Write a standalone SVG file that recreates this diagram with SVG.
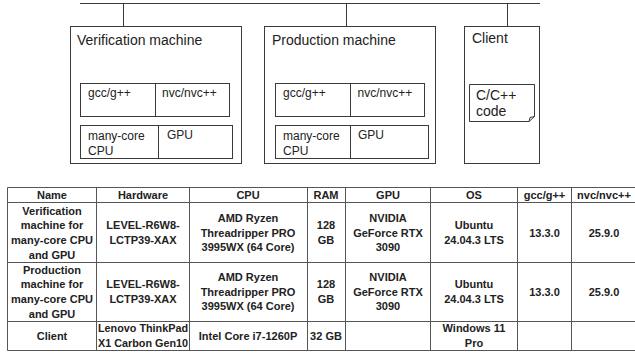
<svg xmlns="http://www.w3.org/2000/svg" width="635" height="356" viewBox="0 0 635 356">
<style>
.bg{fill:#ffffff}
.box{fill:#ffffff;stroke:#3a3a3a;stroke-width:1}
.ln{fill:none;stroke:#3a3a3a;stroke-width:1}
.t14{font-family:"Liberation Sans",Arial,sans-serif;font-size:14px;fill:#222}
.t12{font-family:"Liberation Sans",Arial,sans-serif;font-size:12px;fill:#222}
.tl{fill:none;stroke:#555;stroke-width:1}
.tt{font-family:"Liberation Sans",Arial,sans-serif;font-size:11px;font-weight:bold;fill:#222;text-anchor:middle}
</style>
<rect class="bg" x="0" y="0" width="635" height="356"/>
<g id="connectors">
<line class="ln" x1="80" y1="3.5" x2="540" y2="3.5"/>
<line class="ln" x1="123.5" y1="3.5" x2="123.5" y2="26"/>
<line class="ln" x1="346.5" y1="3.5" x2="346.5" y2="26"/>
<line class="ln" x1="507.5" y1="3.5" x2="507.5" y2="26"/>
</g>
<g id="verification-machine">
<rect class="box" x="70.5" y="26.5" width="171" height="137"/>
<text class="t14" x="77" y="45">Verification machine</text>
<rect class="box" x="80.5" y="83.5" width="75" height="33"/>
<rect class="box" x="155.5" y="83.5" width="74" height="33"/>
<text class="t12" x="88" y="97">gcc/g++</text>
<text class="t12" x="162" y="97">nvc/nvc++</text>
<rect class="box" x="80.5" y="125.5" width="152" height="33"/>
<line class="ln" x1="158.5" y1="125.5" x2="158.5" y2="158.5"/>
<text class="t12" x="88" y="140">many-core</text>
<text class="t12" x="88" y="155">CPU</text>
<text class="t12" x="167" y="139">GPU</text>
</g>
<g id="production-machine">
<rect class="box" x="264.5" y="26.5" width="171" height="137"/>
<text class="t14" x="272" y="45">Production machine</text>
<rect class="box" x="275.5" y="83.5" width="75" height="33"/>
<rect class="box" x="350.5" y="83.5" width="74" height="33"/>
<text class="t12" x="283" y="97">gcc/g++</text>
<text class="t12" x="357.5" y="97">nvc/nvc++</text>
<rect class="box" x="275.5" y="125.5" width="153" height="33"/>
<line class="ln" x1="350.5" y1="125.5" x2="350.5" y2="158.5"/>
<text class="t12" x="283" y="140">many-core</text>
<text class="t12" x="283" y="155">CPU</text>
<text class="t12" x="358" y="139">GPU</text>
</g>
<g id="client">
<rect class="box" x="464.5" y="26.5" width="75" height="137"/>
<text class="t14" x="472" y="43">Client</text>
<path class="box" d="M469.5,84.5 H534.5 V116.5 L529,121.5 H469.5 Z"/>
<path class="ln" d="M529,121.5 L530,117.5 L534.5,116.5"/>
<text class="t14" x="476" y="100">C/C++</text>
<text class="t14" x="476" y="116">code</text>
</g>
<g id="table">
<line class="tl" x1="7.5" y1="187.5" x2="640" y2="187.5"/>
<line class="tl" x1="7.5" y1="202.5" x2="640" y2="202.5"/>
<line class="tl" x1="7.5" y1="262.5" x2="640" y2="262.5"/>
<line class="tl" x1="7.5" y1="321.5" x2="640" y2="321.5"/>
<line class="tl" x1="7.5" y1="350.5" x2="640" y2="350.5"/>
<line class="tl" x1="7.5" y1="187.5" x2="7.5" y2="350.5"/>
<line class="tl" x1="96.5" y1="187.5" x2="96.5" y2="350.5"/>
<line class="tl" x1="189.5" y1="187.5" x2="189.5" y2="350.5"/>
<line class="tl" x1="307.5" y1="187.5" x2="307.5" y2="350.5"/>
<line class="tl" x1="345.5" y1="187.5" x2="345.5" y2="350.5"/>
<line class="tl" x1="430.5" y1="187.5" x2="430.5" y2="350.5"/>
<line class="tl" x1="517.5" y1="187.5" x2="517.5" y2="350.5"/>
<line class="tl" x1="571.5" y1="187.5" x2="571.5" y2="350.5"/>
<text class="tt" x="52" y="199">Name</text>
<text class="tt" x="143" y="199">Hardware</text>
<text class="tt" x="248" y="199">CPU</text>
<text class="tt" x="326" y="199">RAM</text>
<text class="tt" x="388" y="199">GPU</text>
<text class="tt" x="474" y="199">OS</text>
<text class="tt" x="544.5" y="199">gcc/g++</text>
<text class="tt" x="604" y="199">nvc/nvc++</text>
<text class="tt" x="52" y="214.5">Verification</text>
<text class="tt" x="52" y="229">machine for</text>
<text class="tt" x="52" y="243.8">many-core CPU</text>
<text class="tt" x="52" y="258.5">and GPU</text>
<text class="tt" x="143" y="229">LEVEL-R6W8-</text>
<text class="tt" x="143" y="244">LCTP39-XAX</text>
<text class="tt" x="248" y="221.8">AMD Ryzen</text>
<text class="tt" x="248" y="236.5">Threadripper PRO</text>
<text class="tt" x="248" y="251.2">3995WX (64 Core)</text>
<text class="tt" x="326" y="229">128</text>
<text class="tt" x="326" y="244">GB</text>
<text class="tt" x="388" y="221.8">NVIDIA</text>
<text class="tt" x="388" y="236.5">GeForce RTX</text>
<text class="tt" x="388" y="251.2">3090</text>
<text class="tt" x="474" y="229">Ubuntu</text>
<text class="tt" x="474" y="244">24.04.3 LTS</text>
<text class="tt" x="544.5" y="236.5">13.3.0</text>
<text class="tt" x="604" y="236.5">25.9.0</text>
<text class="tt" x="52" y="273.7">Production</text>
<text class="tt" x="52" y="288.4">machine for</text>
<text class="tt" x="52" y="303.1">many-core CPU</text>
<text class="tt" x="52" y="317.8">and GPU</text>
<text class="tt" x="143" y="288.4">LEVEL-R6W8-</text>
<text class="tt" x="143" y="303.1">LCTP39-XAX</text>
<text class="tt" x="248" y="281">AMD Ryzen</text>
<text class="tt" x="248" y="295.7">Threadripper PRO</text>
<text class="tt" x="248" y="310.4">3995WX (64 Core)</text>
<text class="tt" x="326" y="288.4">128</text>
<text class="tt" x="326" y="303.1">GB</text>
<text class="tt" x="388" y="281">NVIDIA</text>
<text class="tt" x="388" y="295.7">GeForce RTX</text>
<text class="tt" x="388" y="310.4">3090</text>
<text class="tt" x="474" y="288.4">Ubuntu</text>
<text class="tt" x="474" y="303.1">24.04.3 LTS</text>
<text class="tt" x="544.5" y="295.7">13.3.0</text>
<text class="tt" x="604" y="295.7">25.9.0</text>
<text class="tt" x="52" y="339.5">Client</text>
<text class="tt" x="143" y="332" textLength="90" lengthAdjust="spacingAndGlyphs">Lenovo ThinkPad</text>
<text class="tt" x="143" y="346.5" textLength="90" lengthAdjust="spacingAndGlyphs">X1 Carbon Gen10</text>
<text class="tt" x="248" y="339.5">Intel Core i7-1260P</text>
<text class="tt" x="326" y="339.5">32 GB</text>
<text class="tt" x="474" y="332">Windows 11</text>
<text class="tt" x="474" y="346.5">Pro</text>
</g>
</svg>
